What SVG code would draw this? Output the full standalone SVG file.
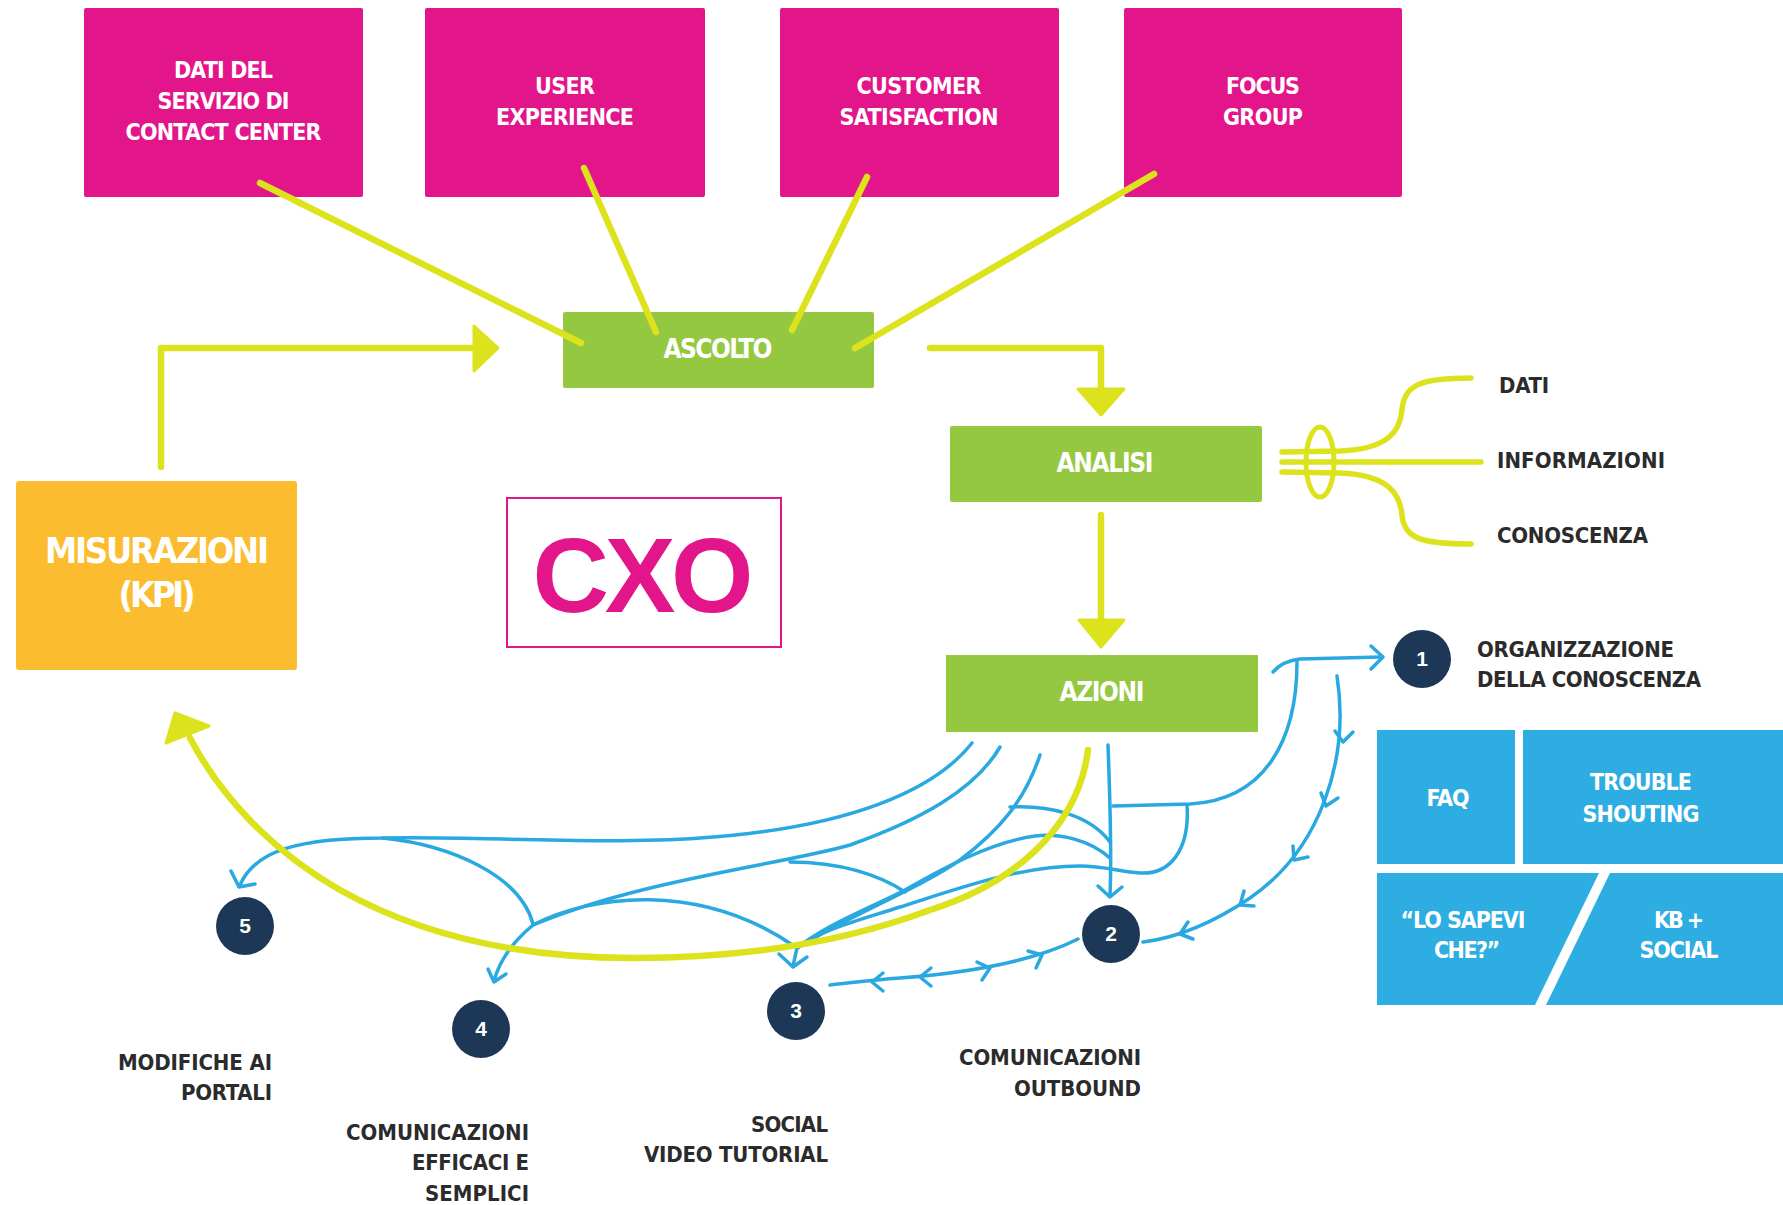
<svg xmlns="http://www.w3.org/2000/svg" width="1783" height="1205" viewBox="0 0 1783 1205">
<defs>
<style>
.t{font-family:"Liberation Sans Narrow","DejaVu Sans Condensed","Liberation Sans",sans-serif;font-weight:bold;}
.w{fill:#ffffff;text-anchor:middle;}
.d{fill:#2b2b2b;}
.pink{fill:#e3158a;}
.green{fill:#95c841;}
.bluebox{fill:#2eade3;}
.yl{fill:none;stroke:#dce31c;stroke-width:6.5;stroke-linecap:round;stroke-linejoin:round;}
.ya{fill:#dce31c;stroke:#dce31c;stroke-width:3;stroke-linejoin:round;}
.bl{fill:none;stroke:#2aa8e0;stroke-width:3.5;stroke-linecap:round;stroke-linejoin:round;}
.num{fill:#1d3756;}
.nt{font-family:"Liberation Sans","DejaVu Sans",sans-serif;font-weight:bold;font-size:21px;fill:#ffffff;text-anchor:middle;}
</style>
</defs>
<rect width="1783" height="1205" fill="#ffffff"/>

<g id="node-dati-contact-center">
  <rect class="pink" x="84" y="8" width="279" height="189" rx="2"/>
  <text class="t w" font-size="23" x="223.5" y="78" textLength="99">DATI DEL</text>
  <text class="t w" font-size="23" x="223.5" y="109" textLength="132">SERVIZIO DI</text>
  <text class="t w" font-size="23" x="223.5" y="140" textLength="196">CONTACT CENTER</text>
</g>
<g id="node-user-experience">
  <rect class="pink" x="425" y="8" width="280" height="189" rx="2"/>
  <text class="t w" font-size="23" x="565" y="94" textLength="60">USER</text>
  <text class="t w" font-size="23" x="565" y="125" textLength="138">EXPERIENCE</text>
</g>
<g id="node-customer-satisfaction">
  <rect class="pink" x="780" y="8" width="279" height="189" rx="2"/>
  <text class="t w" font-size="23" x="919" y="94" textLength="125">CUSTOMER</text>
  <text class="t w" font-size="23" x="919" y="125" textLength="159">SATISFACTION</text>
</g>
<g id="node-focus-group">
  <rect class="pink" x="1124" y="8" width="278" height="189" rx="2"/>
  <text class="t w" font-size="23" x="1263" y="94" textLength="74">FOCUS</text>
  <text class="t w" font-size="23" x="1263" y="125" textLength="80">GROUP</text>
</g>

<g id="node-ascolto">
  <rect class="green" x="563" y="312" width="311" height="76" rx="2"/>
  <text class="t w" font-size="26" x="718" y="358" textLength="109">ASCOLTO</text>
</g>
<g id="node-analisi">
  <rect class="green" x="950" y="426" width="312" height="76" rx="2"/>
  <text class="t w" font-size="26" x="1105" y="472" textLength="97">ANALISI</text>
</g>
<g id="node-azioni">
  <rect class="green" x="946" y="655" width="312" height="77"/>
  <text class="t w" font-size="26" x="1102" y="701" textLength="85">AZIONI</text>
</g>
<g id="node-misurazioni">
  <rect x="16" y="481" width="281" height="189" rx="3" fill="#fbbd2f"/>
  <text class="t w" font-size="36" x="157" y="563" textLength="224">MISURAZIONI</text>
  <text class="t w" font-size="36" x="157" y="607" textLength="77">(KPI)</text>
</g>
<g id="node-cxo">
  <rect x="507" y="498" width="274" height="149" fill="#ffffff" stroke="#e3158a" stroke-width="2"/>
  <text x="643" y="612" font-family="Liberation Sans, Arial, sans-serif" font-weight="bold" font-size="106" fill="#e3158a" text-anchor="middle" textLength="221">CXO</text>
</g>

<g id="node-dati-label">
  <text class="t d" font-size="22" x="1499" y="393" textLength="50">DATI</text>
</g>
<g id="node-informazioni-label">
  <text class="t d" font-size="22" x="1497" y="468" textLength="168">INFORMAZIONI</text>
</g>
<g id="node-conoscenza-label">
  <text class="t d" font-size="22" x="1497" y="543" textLength="151">CONOSCENZA</text>
</g>

<g id="node-1">
  <circle class="num" cx="1422" cy="659" r="29"/>
  <text class="nt" x="1422" y="666">1</text>
  <text class="t d" font-size="22" x="1477" y="657" textLength="197">ORGANIZZAZIONE</text>
  <text class="t d" font-size="22" x="1477" y="687" textLength="224">DELLA CONOSCENZA</text>
</g>
<g id="node-2">
  <circle class="num" cx="1111" cy="934" r="29"/>
  <text class="nt" x="1111" y="941">2</text>
  <text class="t d" font-size="22" x="1141" y="1065" text-anchor="end" textLength="182">COMUNICAZIONI</text>
  <text class="t d" font-size="22" x="1141" y="1096" text-anchor="end" textLength="127">OUTBOUND</text>
</g>
<g id="node-3">
  <circle class="num" cx="796" cy="1011" r="29"/>
  <text class="nt" x="796" y="1018">3</text>
  <text class="t d" font-size="22" x="828" y="1132" text-anchor="end" textLength="77">SOCIAL</text>
  <text class="t d" font-size="22" x="828" y="1162" text-anchor="end" textLength="184">VIDEO TUTORIAL</text>
</g>
<g id="node-4">
  <circle class="num" cx="481" cy="1029" r="29"/>
  <text class="nt" x="481" y="1036">4</text>
  <text class="t d" font-size="22" x="529" y="1140" text-anchor="end" textLength="183">COMUNICAZIONI</text>
  <text class="t d" font-size="22" x="529" y="1170" text-anchor="end" textLength="117">EFFICACI E</text>
  <text class="t d" font-size="22" x="529" y="1201" text-anchor="end" textLength="104">SEMPLICI</text>
</g>
<g id="node-5">
  <circle class="num" cx="245" cy="926" r="29"/>
  <text class="nt" x="245" y="933">5</text>
  <text class="t d" font-size="22" x="272" y="1070" text-anchor="end" textLength="154">MODIFICHE AI</text>
  <text class="t d" font-size="22" x="272" y="1100" text-anchor="end" textLength="91">PORTALI</text>
</g>

<g id="node-faq">
  <rect class="bluebox" x="1377" y="730" width="138" height="134"/>
  <text class="t w" font-size="23" x="1448" y="806" textLength="43">FAQ</text>
</g>
<g id="node-trouble-shouting">
  <rect class="bluebox" x="1523" y="730" width="260" height="134"/>
  <text class="t w" font-size="23" x="1641" y="790" textLength="102">TROUBLE</text>
  <text class="t w" font-size="23" x="1641" y="822" textLength="117">SHOUTING</text>
</g>
<g id="node-lo-sapevi">
  <polygon class="bluebox" points="1377,873 1599,873 1535,1005 1377,1005"/>
  <text class="t w" font-size="23" x="1463" y="928" textLength="125">“LO SAPEVI</text>
  <text class="t w" font-size="23" x="1467" y="958" textLength="66">CHE?”</text>
</g>
<g id="node-kb-social">
  <polygon class="bluebox" points="1610,873 1783,873 1783,1005 1546,1005"/>
  <text class="t w" font-size="23" x="1679" y="928" textLength="50">KB +</text>
  <text class="t w" font-size="23" x="1679" y="958" textLength="79">SOCIAL</text>
</g>

<g id="connectors">
  <!-- yellow from pink boxes to ASCOLTO -->
  <path class="yl" d="M 260 183 L 581 343"/>
  <path class="yl" d="M 584 168 L 656 332"/>
  <path class="yl" d="M 867 177 L 792 330"/>
  <path class="yl" d="M 1154 174 L 855 348"/>
  <!-- MISURAZIONI -> ASCOLTO -->
  <path class="yl" d="M 161 467 L 161 348 L 476 348"/>
  <polygon class="ya" points="474,326 498,348 474,371"/>
  <!-- ASCOLTO -> ANALISI -->
  <path class="yl" d="M 930 348 L 1101 348 L 1101 390"/>
  <polygon class="ya" points="1078,389 1124,389 1101,415"/>
  <!-- ANALISI -> AZIONI -->
  <path class="yl" d="M 1101 515 L 1101 621"/>
  <polygon class="ya" points="1079,620 1124,620 1101,647"/>
  <!-- ANALISI side: dati / informazioni / conoscenza -->
  <path class="yl" style="stroke-width:5.5" d="M 1282 452 L 1340 451 C 1390 449 1400 430 1402 410 C 1404 385 1420 378 1471 378"/>
  <path class="yl" style="stroke-width:5.5" d="M 1282 462 L 1481 462"/>
  <path class="yl" style="stroke-width:5.5" d="M 1282 472 L 1340 473 C 1390 475 1400 495 1402 515 C 1404 538 1420 544 1471 544"/>
  <ellipse cx="1320" cy="462" rx="14" ry="35" fill="none" stroke="#dce31c" stroke-width="5"/>

  <!-- blue connectors -->
  <path class="bl" d="M 972 743 C 935 790 850 828 700 838 C 600 845 470 836 383 838 C 300 838 255 850 240 885"/>
  <polyline class="bl" points="231,871 239,887 255,884"/>
  <path class="bl" d="M 383 838 C 450 845 520 875 533 924"/>
  <path class="bl" d="M 1000 747 C 975 790 920 820 850 845 C 780 865 640 880 533 925"/>
  <path class="bl" d="M 533 925 C 515 940 500 958 494 981"/>
  <polyline class="bl" points="488,969 494,982 506,974"/>
  <path class="bl" d="M 533 925 C 590 895 700 880 797 948"/>
  <path class="bl" d="M 1040 755 C 1025 800 1000 830 960 860 C 920 888 850 915 797 948"/>
  <path class="bl" d="M 1010 807 C 1050 805 1090 815 1110 842"/>
  <path class="bl" d="M 1110 858 C 1090 840 1060 833 1035 836 C 990 842 940 870 905 890 C 870 908 825 925 797 948"/>
  <path class="bl" d="M 790 862 C 840 862 880 875 905 892"/>
  <path class="bl" d="M 1187 805 C 1190 850 1170 875 1140 873 C 1120 872 1105 866 1080 866 C 1020 866 960 888 900 907 C 860 920 820 930 797 948"/>
  <path class="bl" d="M 797 948 L 793 966"/>
  <polyline class="bl" points="779,954 793,967 807,957"/>
  <path class="bl" d="M 1108 745 C 1110 800 1112 850 1110 895"/>
  <polyline class="bl" points="1098,886 1110,897 1122,887"/>
  <path class="bl" d="M 1113 806 L 1190 804 C 1265 800 1297 740 1297 662"/>
  <path class="bl" d="M 1273 672 C 1280 664 1290 660 1300 659 L 1382 657"/>
  <polyline class="bl" points="1371,646 1383,657 1371,669"/>
  <!-- 1 -> 2 with chevrons -->
  <path class="bl" d="M 1337 676 C 1350 760 1320 850 1250 898 C 1210 925 1175 938 1143 942"/>
  <polyline class="bl" points="1353,732 1343,742 1335,731"/>
  <polyline class="bl" points="1338,798 1326,806 1321,793"/>
  <polyline class="bl" points="1308,857 1294,860 1293,846"/>
  <polyline class="bl" points="1254,906 1240,905 1244,891"/>
  <polyline class="bl" points="1193,939 1180,934 1188,922"/>
  <!-- 2 -> 3 with chevrons -->
  <path class="bl" d="M 1078 939 C 1040 958 980 972 900 978 C 870 980 850 983 830 985"/>
  <polyline class="bl" points="1028,951 1042,955 1036,968"/>
  <polyline class="bl" points="977,962 990,968 982,980"/>
  <polyline class="bl" points="931,986 920,977 931,968"/>
  <polyline class="bl" points="883,991 872,982 883,973"/>

  <!-- big yellow return curve to MISURAZIONI -->
  <path class="yl" d="M 1088 750 C 1078 830 1010 885 930 910 C 850 940 750 958 633 958 C 520 958 420 935 340 890 C 270 850 220 795 190 738"/>
  <polygon class="ya" points="175,713 209,726 166,743"/>
</g>
</svg>
